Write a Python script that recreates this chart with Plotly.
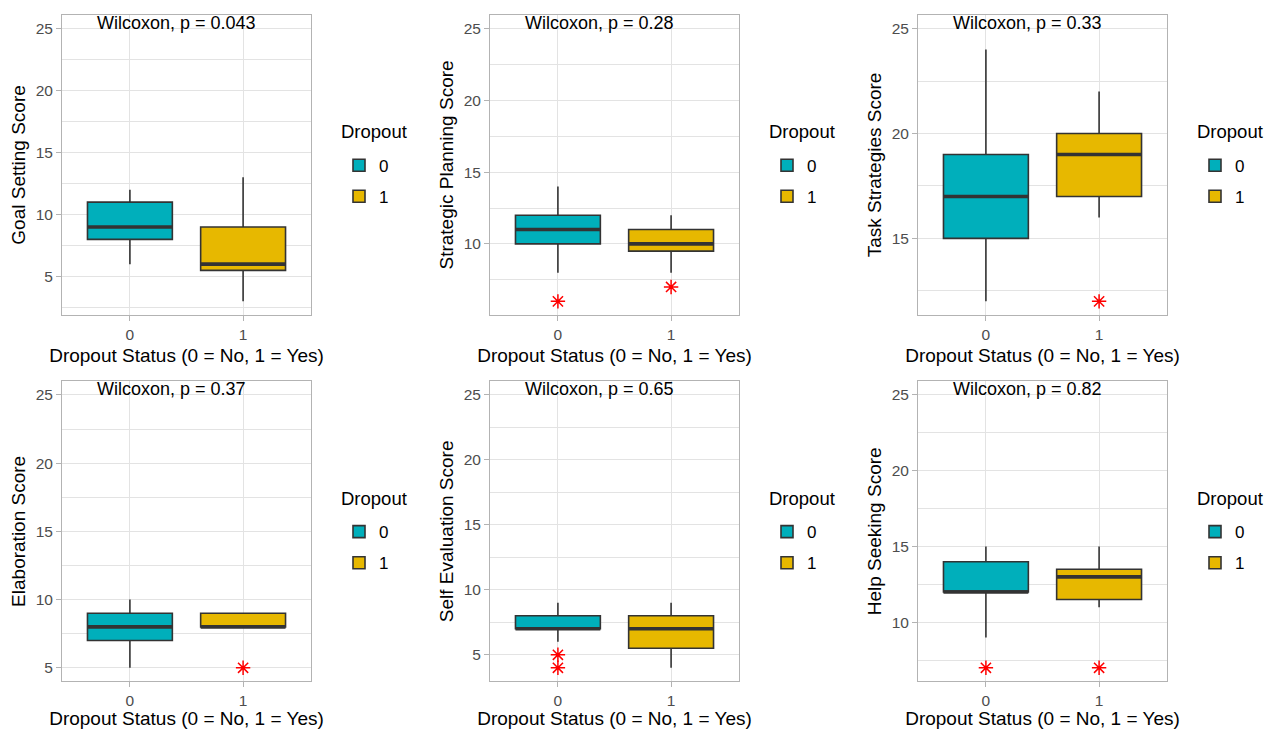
import plotly.graph_objects as go

# ---------------- data ----------------
score_names = ["Goal Setting Score", "Strategic Planning Score", "Task Strategies Score",
               "Elaboration Score", "Self Evaluation Score", "Help Seeking Score"]
p_labels = ["Wilcoxon, p = 0.043", "Wilcoxon, p = 0.28", "Wilcoxon, p = 0.33",
            "Wilcoxon, p = 0.37", "Wilcoxon, p = 0.65", "Wilcoxon, p = 0.82"]
group_labels = ["0", "1"]
x_title = "Dropout Status (0 = No, 1 = Yes)"
legend_title = "Dropout"
label_y = 25

# Dropout = 0
g0_lower = [6, 8, 12, 5, 6, 9]
g0_q1 = [8, 10, 15, 7, 7, 12]
g0_median = [9, 11, 17, 8, 7, 12]
g0_q3 = [11, 12, 19, 9, 8, 14]
g0_upper = [12, 14, 24, 10, 9, 15]
g0_outliers = [[], [6], [], [], [5, 4], [7]]

# Dropout = 1
g1_lower = [3, 8, 16, 8, 4, 11]
g1_q1 = [5.5, 9.5, 17, 8, 5.5, 11.5]
g1_median = [6, 10, 19, 8, 7, 13]
g1_q3 = [9, 11, 20, 9, 8, 13.5]
g1_upper = [13, 12, 22, 9, 9, 15]
g1_outliers = [[], [7], [12], [5], [], [7]]

# ---------------- style ----------------
OFF = 8                      # page body margin of the html page
W, H = 1272 - 2 * OFF, 737 - 2 * OFF
FONT = "Liberation Sans, Arial, sans-serif"
colors = ["#00AFBB", "#E7B800"]
edge = "#333333"
grid = "#E3E3E3"
border = "#B3B3B3"
box_w = 0.75
col_left_px = [62, 490, 918]     # page pixels
row_top_px = [15, 385]
plot_w_px, plot_h_px = 249, 303


def fx(px):
    return (px - OFF) / W


def fy(py):
    return 1 - (py - OFF) / H


groups = [
    (g0_lower, g0_q1, g0_median, g0_q3, g0_upper, g0_outliers),
    (g1_lower, g1_q1, g1_median, g1_q3, g1_upper, g1_outliers),
]

fig = go.Figure()
layout = {}
annotations = []

for k in range(6):
    r, c = divmod(k, 3)
    sfx = "" if k == 0 else str(k + 1)
    xa, ya = "x" + sfx, "y" + sfx
    leg = "legend" + sfx

    all_vals = [label_y]
    for g, (lo, q1, med, q3, up, outs) in enumerate(groups):
        all_vals += [lo[k], up[k]] + list(outs[k])
        fig.add_trace(go.Box(
            x=[g], q1=[q1[k]], median=[med[k]], q3=[q3[k]],
            lowerfence=[lo[k]], upperfence=[up[k]],
            width=box_w, whiskerwidth=0, boxpoints=False,
            fillcolor=colors[g], line=dict(color=edge, width=1.6),
            name=group_labels[g], legend=leg, legendgroup=f"p{k}g{g}",
            showlegend=True, xaxis=xa, yaxis=ya, hoverinfo="skip"))
        fig.add_trace(go.Scatter(
            x=[g - box_w / 2, g + box_w / 2], y=[med[k], med[k]], mode="lines",
            line=dict(color=edge, width=3.6), showlegend=False,
            xaxis=xa, yaxis=ya, hoverinfo="skip"))
        if outs[k]:
            fig.add_trace(go.Scatter(
                x=[g] * len(outs[k]), y=outs[k], mode="markers",
                marker=dict(symbol="asterisk-open", size=12, color="red",
                            line=dict(color="red", width=1.5)),
                showlegend=False, xaxis=xa, yaxis=ya, hoverinfo="skip"))

    lo_v, hi_v = min(all_vals), max(all_vals)
    pad = 0.05 * (hi_v - lo_v)
    yr = [lo_v - pad, hi_v + pad]

    left = col_left_px[c]
    top = row_top_px[r]

    common = dict(showline=True, mirror=True, linecolor=border, linewidth=1,
                  ticks="outside", ticklen=5, tickcolor=border, zeroline=False,
                  showgrid=True, gridcolor=grid, gridwidth=1,
                  tickfont=dict(size=15.5, color="#4D4D4D", family=FONT))
    layout["xaxis" + sfx] = dict(
        domain=[fx(left), fx(left + plot_w_px)], anchor=ya, range=[-0.6, 1.6],
        tickvals=[0, 1], ticktext=group_labels,
        title=dict(text=x_title, font=dict(size=19, color="black", family=FONT), standoff=7),
        **common)
    layout["yaxis" + sfx] = dict(
        domain=[fy(top + plot_h_px), fy(top)], anchor=xa, range=yr, tick0=0, dtick=5,
        minor=dict(tick0=2.5, dtick=5, showgrid=True, gridcolor=grid, gridwidth=0.6, ticks=""),
        title=dict(text=score_names[k], font=dict(size=19, color="black", family=FONT), standoff=4),
        **common)
    layout[leg] = dict(
        x=fx(left + plot_w_px + 28), y=fy(top + 134),
        xanchor="left", yanchor="top", bgcolor="rgba(0,0,0,0)",
        font=dict(size=17, color="black", family=FONT), tracegroupgap=6)
    annotations.append(dict(
        x=fx(left + plot_w_px + 28), y=fy(top + 118), xref="paper", yref="paper",
        text=legend_title, showarrow=False, xanchor="left", yanchor="middle",
        font=dict(size=18.5, color="black", family=FONT)))
    annotations.append(dict(
        x=-0.31, y=label_y, xref=xa, yref=ya, text=p_labels[k], showarrow=False,
        xanchor="left", yanchor="bottom", yshift=-6,
        font=dict(size=18, color="black", family=FONT)))

fig.update_layout(
    width=W, height=H, autosize=False,
    margin=dict(l=0, r=0, t=0, b=0),
    paper_bgcolor="white", plot_bgcolor="white",
    font=dict(family=FONT),
    annotations=annotations,
    **layout)

fig.write_html("out.html")
